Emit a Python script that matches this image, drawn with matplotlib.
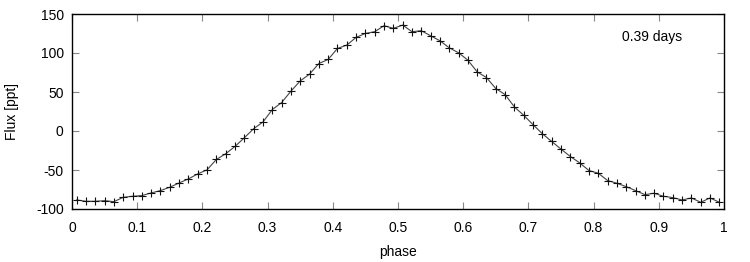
import numpy as np
import matplotlib
matplotlib.use("Agg")
import matplotlib.pyplot as plt

plt.rcParams['font.family'] = ['Liberation Sans', 'DejaVu Sans']
plt.rcParams['axes.unicode_minus'] = False

n_bins = 70
phase = (np.arange(n_bins) + 0.5) / n_bins
flux = [
    -88.4, -90.1, -90.1, -89.3, -90.6, -85.0, -83.7, -82.8, -79.4, -76.4,
    -72.1, -66.6, -61.4, -55.0, -49.8, -36.5, -29.2, -19.8, -8.7, 2.9,
    11.5, 27.4, 36.4, 51.0, 64.2, 72.8, 86.5, 91.7, 105.8, 110.1,
    120.0, 125.1, 127.3, 135.0, 131.6, 135.8, 127.3, 128.6, 122.1, 115.7,
    106.7, 100.3, 90.8, 75.8, 68.5, 54.4, 46.7, 30.8, 20.1, 8.1,
    -3.5, -13.4, -23.2, -32.7, -40.8, -50.7, -54.1, -63.5, -67.0, -71.3,
    -76.4, -81.6, -79.8, -83.7, -85.4, -88.4, -85.8, -91.4, -85.8, -91.4,
]
xticks = [0, 0.1, 0.2, 0.3, 0.4, 0.5, 0.6, 0.7, 0.8, 0.9, 1]
xticklabels = ['0', '0.1', '0.2', '0.3', '0.4', '0.5', '0.6', '0.7', '0.8', '0.9', '1']
yticks = [-100, -50, 0, 50, 100, 150]
period_label = '0.39 days'

fig = plt.figure(figsize=(7.5, 2.62), dpi=100)
ax = fig.add_axes([72/750, 1-209/262, (724-72)/750, (209-14)/262])
ax.plot(phase, flux, color='#444444', lw=0.8, marker='+', ms=5.5,
        mec='#111111', mew=0.8)
ax.set_xlim(0, 1)
ax.set_ylim(-100, 150)
ax.set_xticks(xticks)
ax.set_xticklabels(xticklabels)
ax.set_yticks(yticks)
ax.tick_params(direction='in', top=True, right=True, length=5, width=0.8,
               labelsize=10, color='#888888', labelcolor='black')
ax.tick_params(axis='x', pad=9)
ax.tick_params(axis='y', pad=6)
for s in ax.spines.values():
    s.set_linewidth(1.0)
ax.set_xlabel('phase', fontsize=10, labelpad=7)
ax.set_ylabel('Flux [ppt]', fontsize=10, labelpad=12)
ax.text(0.89, 0.88, period_label, transform=ax.transAxes, fontsize=10,
        ha='center', va='center')
fig.savefig('out.png', dpi=100)
